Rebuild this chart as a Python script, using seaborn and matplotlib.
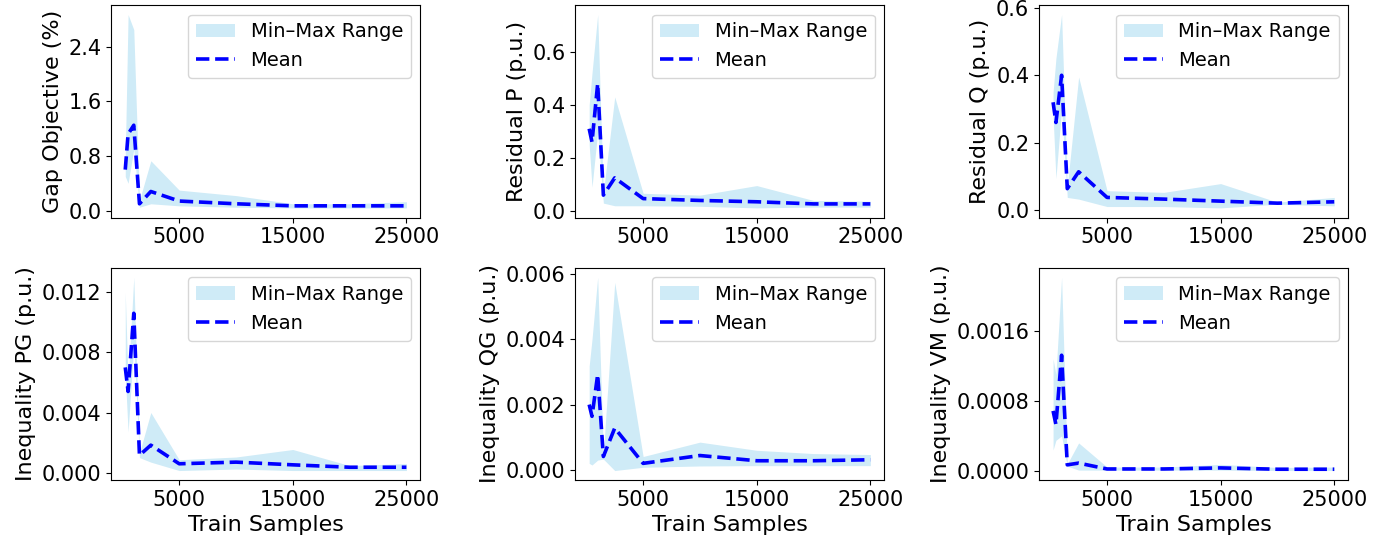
import numpy as np
import pandas as pd
import seaborn as sns
import matplotlib
matplotlib.use("Agg")
import matplotlib.pyplot as plt

# train sample sizes
train_samples = [250, 500, 1000, 1500, 2500, 5000, 10000, 15000, 20000, 25000]

# Gap Objective (%)
gap_mean = [0.60, 1.12, 1.25, 0.10, 0.28, 0.14, 0.10, 0.07, 0.07, 0.07]
gap_min = [0.50, 0.40, 0.90, 0.05, 0.10, 0.07, 0.05, 0.04, 0.04, 0.04]
gap_max = [0.80, 2.87, 2.65, 0.15, 0.73, 0.30, 0.22, 0.10, 0.10, 0.13]

# Residual P (p.u.)
resp_mean = [0.31, 0.26, 0.48, 0.06, 0.125, 0.047, 0.040, 0.035, 0.027, 0.027]
resp_min = [0.25, 0.09, 0.30, 0.03, 0.020, 0.020, 0.018, 0.012, 0.015, 0.015]
resp_max = [0.40, 0.52, 0.74, 0.07, 0.430, 0.067, 0.060, 0.096, 0.040, 0.037]

# Residual Q (p.u.)
resq_mean = [0.32, 0.26, 0.40, 0.064, 0.114, 0.038, 0.033, 0.027, 0.021, 0.025]
resq_min = [0.28, 0.094, 0.30, 0.038, 0.033, 0.011, 0.011, 0.007, 0.018, 0.013]
resq_max = [0.35, 0.45, 0.58, 0.070, 0.395, 0.058, 0.053, 0.079, 0.024, 0.038]

# Inequality PG (p.u.)
pg_mean = [0.0070, 0.0054, 0.0106, 0.00115, 0.00183, 0.00059, 0.00070, 0.00052, 0.00036, 0.00036]
pg_min = [0.0065, 0.0027, 0.0085, 0.00100, 0.00070, 0.00014, 0.00024, 0.00014, 0.00014, 0.00014]
pg_max = [0.0120, 0.0060, 0.0130, 0.00130, 0.00400, 0.00086, 0.00104, 0.00154, 0.00047, 0.00060]

# Inequality QG (p.u.)
qg_mean = [0.00200, 0.00164, 0.00292, 0.00041, 0.00128, 0.00020, 0.00044, 0.00028, 0.00028, 0.00031]
qg_min = [0.00020, 0.00015, 0.00030, 0.00033, -0.00002, 0.00008, 0.00012, 0.00013, 0.00013, 0.00013]
qg_max = [0.00318, 0.00400, 0.00590, 0.00050, 0.00574, 0.00041, 0.00085, 0.00060, 0.00050, 0.00047]

# Inequality VM (p.u.)
vm_mean = [0.000685, 0.00053, 0.00132, 0.000070, 0.000090, 0.000023, 0.000023, 0.000035, 0.000020, 0.000020]
vm_min = [0.000240, 0.00035, 0.00040, 0.000055, 0.000010, 0.000010, 0.000010, 0.000010, 0.000005, 0.000005]
vm_max = [0.001280, 0.00110, 0.00221, 0.000080, 0.000320, 0.000045, 0.000045, 0.000075, 0.000040, 0.000045]

panels = [
    ("Gap Objective (%)", gap_mean, gap_min, gap_max, [0.0, 0.8, 1.6, 2.4]),
    ("Residual P (p.u.)", resp_mean, resp_min, resp_max, [0.0, 0.2, 0.4, 0.6]),
    ("Residual Q (p.u.)", resq_mean, resq_min, resq_max, [0.0, 0.2, 0.4, 0.6]),
    ("Inequality PG (p.u.)", pg_mean, pg_min, pg_max, [0.0, 0.004, 0.008, 0.012]),
    ("Inequality QG (p.u.)", qg_mean, qg_min, qg_max, [0.0, 0.002, 0.004, 0.006]),
    ("Inequality VM (p.u.)", vm_mean, vm_min, vm_max, [0.0, 0.0008, 0.0016]),
]
x_ticks = [5000, 15000, 25000]

plt.rcParams["font.family"] = ["DejaVu Sans"]
plt.rcParams["font.size"] = 15

fig, axes = plt.subplots(2, 3, figsize=(13.9, 5.42), dpi=100)

for i, (ax, (ylabel, mean, lo, hi, yt)) in enumerate(zip(axes.flat, panels)):
    df = pd.DataFrame({"samples": train_samples, "mean": mean, "lo": lo, "hi": hi})
    ax.fill_between(df["samples"], df["lo"], df["hi"], color="skyblue", alpha=0.4,
                    linewidth=0, label="Min\u2013Max Range")
    sns.lineplot(data=df, x="samples", y="mean", ax=ax, color="blue",
                 linestyle="--", linewidth=2.6, label="Mean")
    ax.set_ylabel(ylabel, fontsize=16)
    ax.set_xticks(x_ticks)
    ax.set_yticks(yt)
    ax.tick_params(labelsize=15)
    if i >= 3:
        ax.set_xlabel("Train Samples", fontsize=16)
    else:
        ax.set_xlabel("")
    ax.legend(loc="upper right", fontsize=14)

fig.subplots_adjust(left=0.080, right=0.970, top=0.991, bottom=0.114,
                    wspace=0.50, hspace=0.235)
fig.savefig("out.png", dpi=100)
